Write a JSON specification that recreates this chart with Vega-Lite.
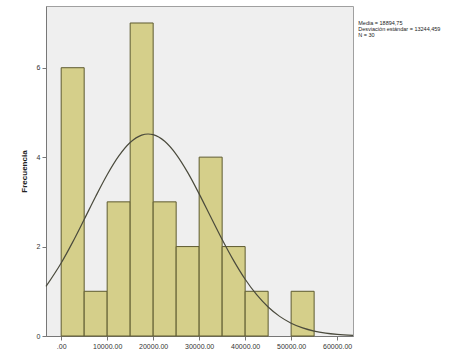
{
  "$schema": "https://vega.github.io/schema/vega-lite/v6.json",
  "width": 307,
  "height": 330,
  "autosize": {"type": "none"},
  "padding": {"left": 46, "top": 6, "right": 115, "bottom": 26},
  "background": "#ffffff",
  "config": {
    "view": {"fill": "#efefef", "stroke": "#a0a0a0", "strokeWidth": 1},
    "font": "Liberation Sans",
    "axis": {"grid": false, "domainColor": "#777777", "tickColor": "#777777", "labelColor": "#333333", "labelFont": "Liberation Sans"}
  },
  "datasets": {
    "bins": [
      {"bin_start": 0, "bin_end": 5000, "count": 6},
      {"bin_start": 5000, "bin_end": 10000, "count": 1},
      {"bin_start": 10000, "bin_end": 15000, "count": 3},
      {"bin_start": 15000, "bin_end": 20000, "count": 7},
      {"bin_start": 20000, "bin_end": 25000, "count": 3},
      {"bin_start": 25000, "bin_end": 30000, "count": 2},
      {"bin_start": 30000, "bin_end": 35000, "count": 4},
      {"bin_start": 35000, "bin_end": 40000, "count": 2},
      {"bin_start": 40000, "bin_end": 45000, "count": 1},
      {"bin_start": 50000, "bin_end": 55000, "count": 1}
    ],
    "curve": [
      {"x": -3300, "y": 1.109}, {"x": 0, "y": 1.633}, {"x": 2500, "y": 2.100},
      {"x": 5000, "y": 2.606}, {"x": 7500, "y": 3.120}, {"x": 10000, "y": 3.606},
      {"x": 12500, "y": 4.021}, {"x": 15000, "y": 4.327}, {"x": 17500, "y": 4.493},
      {"x": 18895, "y": 4.518}, {"x": 20000, "y": 4.503}, {"x": 22500, "y": 4.354},
      {"x": 25000, "y": 4.063}, {"x": 27500, "y": 3.659}, {"x": 30000, "y": 3.179},
      {"x": 32500, "y": 2.666}, {"x": 35000, "y": 2.157}, {"x": 37500, "y": 1.685},
      {"x": 40000, "y": 1.269}, {"x": 42500, "y": 0.923}, {"x": 45000, "y": 0.648},
      {"x": 47500, "y": 0.439}, {"x": 50000, "y": 0.287}, {"x": 52500, "y": 0.181},
      {"x": 55000, "y": 0.110}, {"x": 57500, "y": 0.0646}, {"x": 60000, "y": 0.0366},
      {"x": 63450, "y": 0.0156}
    ],
    "note": [
      {"x": 64600, "y": 7.05, "label": "Media = 18894,75\nDesviación estándar = 13244,459\nN = 30"}
    ]
  },
  "layer": [
    {
      "data": {"name": "bins"},
      "mark": {"type": "rect", "fill": "#d5cf8a", "stroke": "#5e5b30", "strokeWidth": 1},
      "encoding": {
        "x": {
          "field": "bin_start", "type": "quantitative",
          "scale": {"domain": [-3300, 63450], "nice": false, "zero": false},
          "axis": {
            "title": null, "values": [0, 10000, 20000, 30000, 40000, 50000, 60000],
            "labelExpr": "datum.value == 0 ? '.00' : format(datum.value, '.2f')",
            "labelFontSize": 7, "tickSize": 4, "labelPadding": 2
          }
        },
        "x2": {"field": "bin_end"},
        "y": {
          "field": "count", "type": "quantitative",
          "scale": {"domain": [0, 7.38], "nice": false},
          "axis": {
            "title": "Frecuencia", "values": [0, 2, 4, 6], "format": "d",
            "labelFontSize": 7, "tickSize": 4, "labelPadding": 2,
            "titleFontSize": 8, "titleFontWeight": "bold", "titleColor": "#222222", "titlePadding": 8
          }
        },
        "y2": {"datum": 0}
      }
    },
    {
      "data": {"name": "curve"},
      "mark": {"type": "line", "color": "#4a4a3c", "strokeWidth": 1.2, "interpolate": "monotone"},
      "encoding": {
        "x": {"field": "x", "type": "quantitative"},
        "y": {"field": "y", "type": "quantitative"}
      }
    },
    {
      "data": {"name": "note"},
      "mark": {"type": "text", "align": "left", "baseline": "top", "fontSize": 5.5, "lineHeight": 6, "lineBreak": "\n", "color": "#222222"},
      "encoding": {
        "x": {"field": "x", "type": "quantitative"},
        "y": {"field": "y", "type": "quantitative"},
        "text": {"field": "label"}
      }
    }
  ]
}
